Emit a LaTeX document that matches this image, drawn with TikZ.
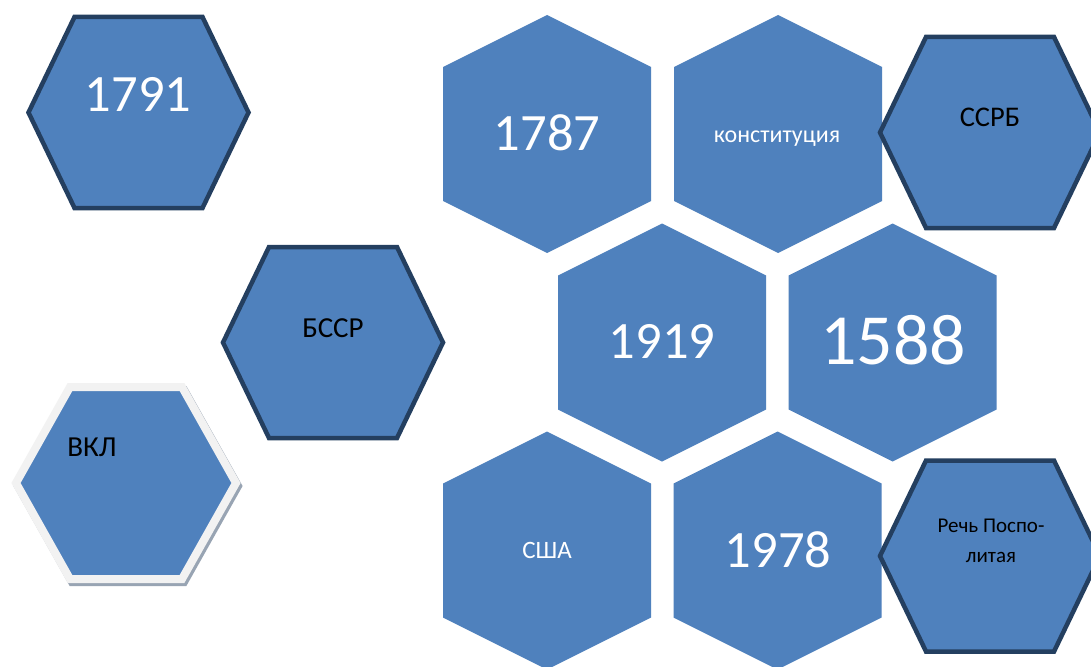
\documentclass[tikz,border=0pt]{standalone}
\usepackage{fontspec}
\setmainfont{Carlito}
\definecolor{hexblue}{HTML}{4F81BD}
\definecolor{hexdark}{HTML}{243F60}
\definecolor{hexlight}{HTML}{F2F2F2}
\definecolor{hexshadow}{HTML}{98A4B3}
\tikzset{
  pointhex/.style={fill=hexblue, draw=none},
  framedhex/.style={fill=hexblue, draw=hexdark, line width=4.5pt, line join=miter},
  lighthex/.style={fill=hexblue, draw=hexlight, line width=8pt, line join=miter},
  shadowhex/.style={fill=hexshadow, draw=hexshadow, line width=8pt, line join=miter},
  lbl/.style={inner sep=0pt, anchor=base},
  wlbl/.style={lbl, text=white},
  klbl/.style={lbl, text=black},
}
\begin{document}
\begin{tikzpicture}[x=1pt, y=-1pt]
\useasboundingbox (0,0) rectangle (1091,666);
\clip (0,0) rectangle (1091,666);
\fill[white] (0,0) rectangle (1091,666);

% pointy-top hexagons (no border)
\foreach \cx/\cy in {547/134, 778/134, 662/342.5, 892.5/342.5, 547/550.5, 777.5/550.5}{
  \path[pointhex, shift={(\cx,\cy)}] (0,-119) -- (104,-67) -- (104,67) -- (0,119) -- (-104,67) -- (-104,-67) -- cycle;
}

% framed flat hexagons
\foreach \cx/\cy in {138.5/112.5, 333/342.5, 990/132.5, 990/556}{
  \path[framedhex, shift={(\cx,\cy)}] (-110,0) -- (-64,-95.5) -- (64,-95.5) -- (110,0) -- (64,95.5) -- (-64,95.5) -- cycle;
}

% light-framed hexagon with shadow
\path[shadowhex, shift={(128,486)}] (-110,0) -- (-56,-96) -- (56,-96) -- (110,0) -- (56,96) -- (-56,96) -- cycle;
\path[lighthex, shift={(126,483)}] (-110,0) -- (-56,-96) -- (56,-96) -- (110,0) -- (56,96) -- (-56,96) -- cycle;

% labels
\node[wlbl, font=\fontsize{52.5}{52.5}\selectfont] (t1791) at (138,112) {1791};
\node[wlbl, font=\fontsize{52.5}{52.5}\selectfont] (t1787) at (547,150) {1787};
\node[wlbl, font=\fontsize{24}{24}\selectfont] (tkon) at (777,142) {конституция};
\node[wlbl, font=\fontsize{52.5}{52.5}\selectfont] (t1919) at (662,358) {1919};
\node[wlbl, font=\fontsize{72}{72}\selectfont] (t1588) at (893,364) {1588};
\node[wlbl, font=\fontsize{25}{25}\selectfont] (tusa) at (547,558) {США};
\node[wlbl, font=\fontsize{52.5}{52.5}\selectfont] (t1978) at (778,567) {1978};
\node[klbl, font=\fontsize{29}{29}\selectfont] (tbssr) at (333,337) {БССР};
\node[klbl, font=\fontsize{28.5}{28.5}\selectfont] (tssrb) at (990,126) {ССРБ};
\node[klbl, font=\fontsize{29}{29}\selectfont] (tvkl) at (92,456) {ВКЛ};
\node[inner sep=0pt, text=black, align=center, font=\fontsize{21}{30}\selectfont] (trech) at (991,541) {Речь Поспо-\\литая};
\end{tikzpicture}
\end{document}
